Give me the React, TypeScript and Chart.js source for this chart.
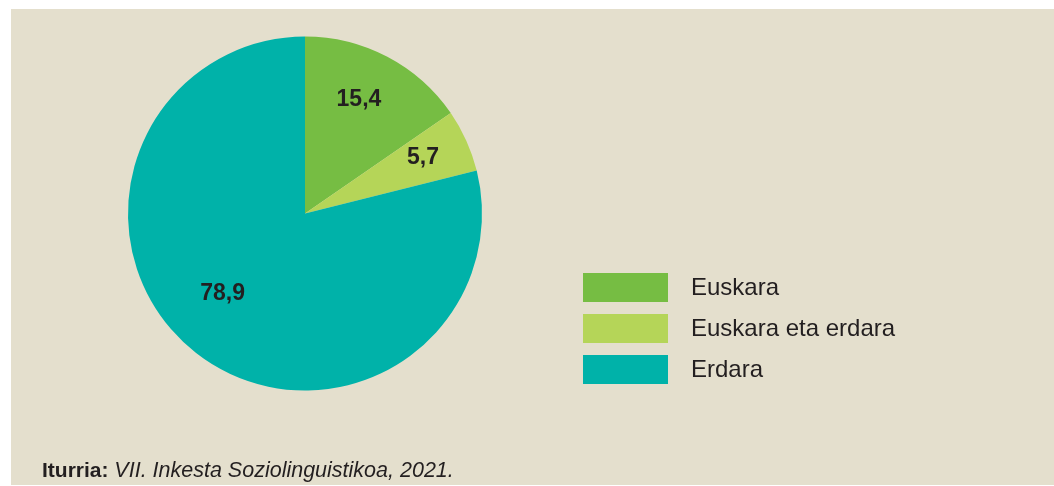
import React, { useEffect, useRef } from "react";
import { Chart, registerables } from "chart.js";

Chart.register(...registerables);

const categories = ["Euskara", "Euskara eta erdara", "Erdara"];
const values = [15.4, 5.7, 78.9];
const valueLabels = ["15,4", "5,7", "78,9"];
const colors = ["#76BD43", "#B5D558", "#00B2A9"];
const sourceBold = "Iturria:";
const sourceItalic = "VII. Inkesta Soziolinguistikoa, 2021.";

const FONT = "'Liberation Sans', Arial, Helvetica, sans-serif";
const TEXT = "#231F20";

// label placement tweaks (fraction of radius, angle offset in degrees)
const labelPlace = [
  { r: 0.715, da: -2.5 },
  { r: 0.739, da: -1.3 },
  { r: 0.647, da: 8 },
];

const overlayPlugin = {
  id: "overlay",
  afterDatasetsDraw(chart: any) {
    const ctx = chart.ctx;
    const meta = chart.getDatasetMeta(0);
    ctx.save();
    // value labels
    ctx.font = `bold 23px ${FONT}`;
    ctx.fillStyle = TEXT;
    ctx.textAlign = "center";
    ctx.textBaseline = "middle";
    meta.data.forEach((arc: any, i: number) => {
      const p = arc.getProps(["x", "y", "startAngle", "endAngle", "outerRadius"], true);
      const mid = (p.startAngle + p.endAngle) / 2 + (labelPlace[i].da * Math.PI) / 180;
      const r = p.outerRadius * labelPlace[i].r;
      ctx.fillText(valueLabels[i], p.x + r * Math.cos(mid), p.y + r * Math.sin(mid) + 1);
    });
    // legend
    const lx = 572;
    const ly0 = 264;
    const step = 41;
    ctx.textAlign = "left";
    ctx.font = `24px ${FONT}`;
    categories.forEach((c, i) => {
      const y = ly0 + i * step;
      ctx.fillStyle = colors[i];
      ctx.fillRect(lx, y, 85, 29);
      ctx.fillStyle = TEXT;
      ctx.fillText(c, 680, y + 15);
    });
    // source
    ctx.textBaseline = "alphabetic";
    ctx.font = `bold 21px ${FONT}`;
    ctx.fillText(sourceBold, 31, 468);
    const w = ctx.measureText(sourceBold + " ").width;
    ctx.font = `italic 21.5px ${FONT}`;
    ctx.fillText(sourceItalic, 31 + w, 468);
    ctx.restore();
  },
};

export default function App() {
  const ref = useRef<HTMLCanvasElement>(null);
  useEffect(() => {
    if (!ref.current) return;
    const chart = new Chart(ref.current, {
      type: "pie",
      data: {
        labels: categories,
        datasets: [
          {
            data: values,
            backgroundColor: colors,
            borderWidth: 0,
          },
        ],
      },
      options: {
        animation: false,
        responsive: true,
        maintainAspectRatio: false,
        layout: { padding: { left: 117, top: 27, right: 572, bottom: 94 } },
        plugins: {
          legend: { display: false },
          tooltip: { enabled: false },
        },
      },
      plugins: [overlayPlugin],
    });
    return () => chart.destroy();
  }, []);
  return (
    <div
      style={{
        position: "absolute",
        left: 11,
        top: 9,
        width: 1043,
        height: 476,
        background: "#E4DFCD",
      }}
    >
      <canvas ref={ref} />
    </div>
  );
}
